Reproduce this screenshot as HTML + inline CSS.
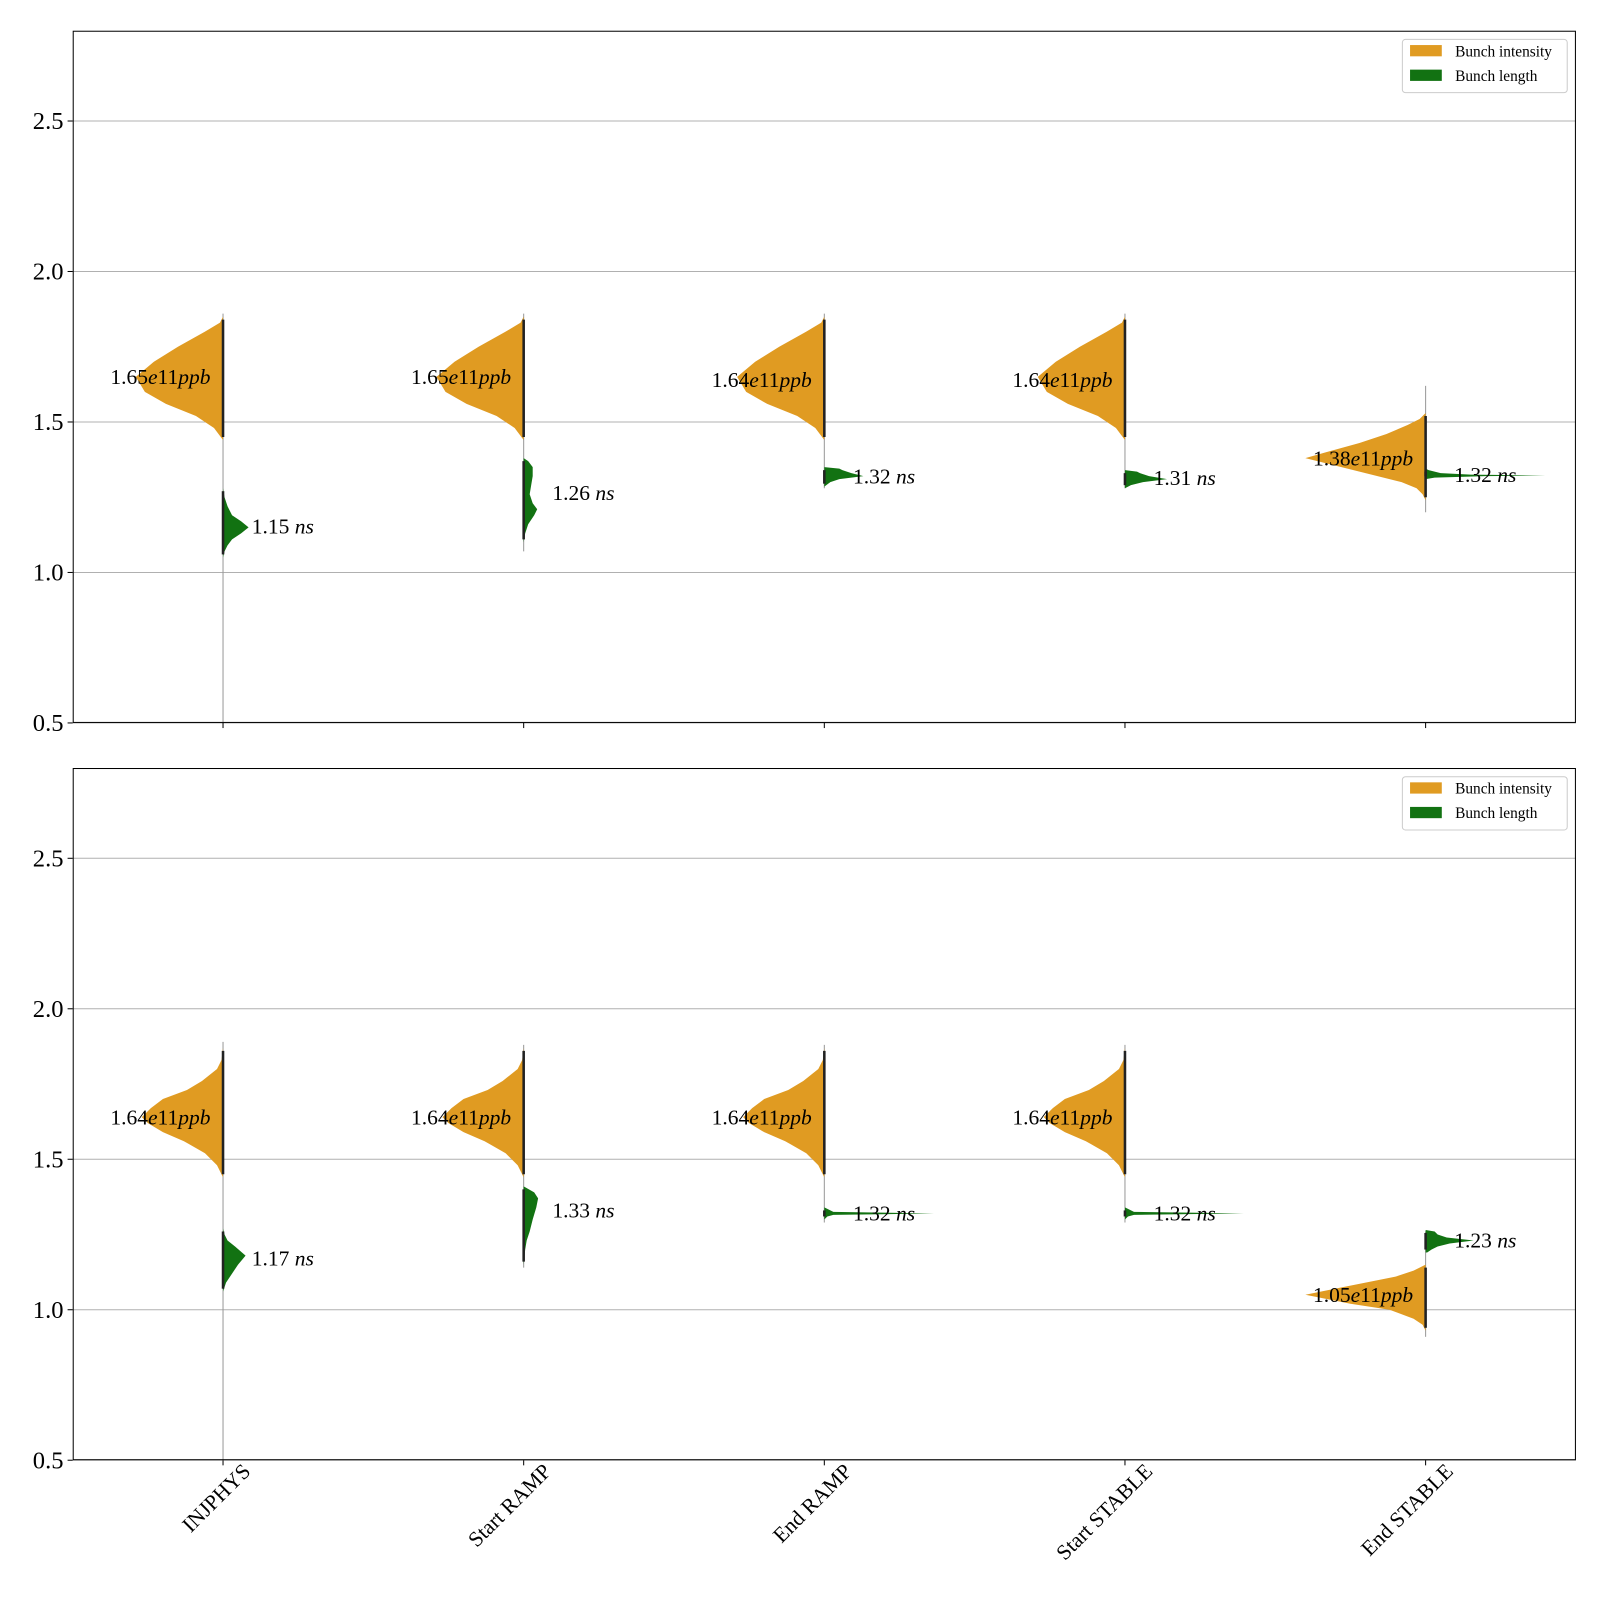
<!DOCTYPE html>
<html><head><meta charset="utf-8"><style>
body{margin:0;background:#fff}
svg text{font-family:"Liberation Serif",serif}
</style></head><body>
<svg id="c" width="1600" height="1600" viewBox="0 0 1562.5 1562.5" xmlns="http://www.w3.org/2000/svg"></svg>
<script>
const categories=["INJPHYS","Start RAMP","End RAMP","Start STABLE","End STABLE"];
const yTicks=[0.5,1.0,1.5,2.0,2.5];
const yTickLabels=["0.5","1.0","1.5","2.0","2.5"];
// top panel
const topIntensityMedian=[1.65,1.65,1.64,1.64,1.38];
const topIntensityLabels=["1.65","1.65","1.64","1.64","1.38"];
const topLengthMedian=[1.153,1.265,1.32,1.315,1.325];
const topLengthLabels=["1.15","1.26","1.32","1.31","1.32"];
const topRange=[[0.5,1.86],[1.07,1.86],[1.28,1.86],[1.28,1.86],[1.2,1.62]];
const oVals=[1.44,1.48,1.52,1.56,1.60,1.65,1.70,1.75,1.80,1.83,1.85];
const oW=[0,0.03,0.09,0.19,0.26,0.29,0.23,0.15,0.06,0.01,0];
const o5Vals=[1.24,1.26,1.28,1.30,1.33,1.36,1.38,1.40,1.43,1.46,1.49,1.51,1.53];
const o5W=[0,0.01,0.03,0.08,0.2,0.32,0.40,0.33,0.22,0.13,0.06,0.02,0];
const g1Vals=[1.05,1.07,1.09,1.11,1.13,1.15,1.17,1.19,1.22,1.25,1.28];
const g1W=[0,0.005,0.015,0.03,0.06,0.085,0.06,0.03,0.015,0.005,0];
const g2Vals=[1.10,1.13,1.16,1.19,1.21,1.23,1.26,1.29,1.32,1.35,1.37,1.38];
const g2W=[0,0.005,0.015,0.035,0.045,0.03,0.02,0.025,0.03,0.03,0.015,0];
const g3Vals=[1.285,1.30,1.31,1.32,1.33,1.34,1.345,1.35];
const g3W=[0.0,0.02,0.05,0.13,0.09,0.06,0.05,0];
const g4Vals=[1.28,1.29,1.30,1.31,1.32,1.33,1.335,1.34];
const g4W=[0,0.02,0.06,0.14,0.08,0.05,0.04,0];
const g5Vals=[1.31,1.315,1.32,1.322,1.325,1.33,1.34,1.345];
const g5W=[0,0.03,0.2,0.40,0.15,0.05,0.01,0];
// bottom panel
const botIntensityMedian=[1.64,1.64,1.64,1.64,1.05];
const botIntensityLabels=["1.64","1.64","1.64","1.64","1.05"];
const botLengthMedian=[1.17,1.33,1.32,1.32,1.23];
const botLengthLabels=["1.17","1.33","1.32","1.32","1.23"];
const botRange=[[0.5,1.89],[1.14,1.88],[1.29,1.88],[1.29,1.88],[0.91,1.26]];
const bVals=[1.44,1.48,1.52,1.56,1.59,1.62,1.64,1.67,1.70,1.73,1.76,1.80,1.83,1.87];
const bW=[0,0.02,0.06,0.13,0.2,0.25,0.27,0.24,0.2,0.12,0.07,0.02,0.005,0];
const b5Vals=[0.93,0.95,0.97,1.00,1.02,1.05,1.07,1.09,1.11,1.13,1.15];
const b5W=[0,0.01,0.04,0.12,0.25,0.40,0.3,0.2,0.1,0.04,0];
const h1Vals=[1.06,1.09,1.12,1.15,1.18,1.21,1.23,1.25,1.27];
const h1W=[0,0.01,0.03,0.05,0.075,0.04,0.015,0.005,0];
const h2Vals=[1.15,1.20,1.23,1.26,1.30,1.34,1.37,1.39,1.41];
const h2W=[0,0.005,0.01,0.02,0.03,0.042,0.048,0.035,0];
const h3Vals=[1.30,1.31,1.315,1.32,1.325,1.33,1.34];
const h3W=[0,0.01,0.03,0.365,0.03,0.02,0];
const h4Vals=[1.30,1.31,1.315,1.32,1.325,1.33,1.34];
const h4W=[0,0.01,0.03,0.395,0.03,0.02,0];
const h5Vals=[1.19,1.20,1.21,1.22,1.23,1.24,1.25,1.26,1.265];
const h5W=[0.005,0.02,0.04,0.08,0.16,0.07,0.04,0.03,0];

const NS="http://www.w3.org/2000/svg";
const svg=document.getElementById('c');
const X0=71,X1=1539,YMIN=0.5,YMAX=2.8;
const panels=[{top:30,bot:706},{top:750,bot:1426}];
const step=(X1-X0)/5;
function xs(i){return X0+(i+0.5)*step;}
function ys(p,v){return p.bot-(v-YMIN)/(YMAX-YMIN)*(p.bot-p.top);}
function mk(tag,attrs,parent){const e=document.createElementNS(NS,tag);for(const k in attrs)e.setAttribute(k,attrs[k]);(parent||svg).appendChild(e);return e;}
const ORANGE="#e09b22",GREEN="#127212";

function violin(p,i,vals,w,side,color,name){
  let d="";
  const cx=xs(i);
  vals.forEach((v,k)=>{const x=cx+side*w[k]*step;d+=(k?"L":"M")+x.toFixed(2)+","+ys(p,v).toFixed(2);});
  d+="L"+cx+","+ys(p,vals[vals.length-1])+"L"+cx+","+ys(p,vals[0])+"Z";
  const e=mk('path',{d:d,fill:color});
  
  
  return e;
}

function drawPanel(pi,p,cfg){
  const g=mk('g',{});
  
  
  yTicks.forEach((t,k)=>{
    const y=ys(p,t);
    const gl=mk('line',{x1:X0,x2:X1,y1:y,y2:y,stroke:"#b0b0b0","stroke-width":1},g);
    
    
    mk('line',{x1:X0-5,x2:X0,y1:y,y2:y,stroke:"#000"},g);
    const tx=mk('text',{x:X0-9,y:y+8,"text-anchor":"end","font-size":24},g);
    tx.textContent=yTickLabels[k];
    
    
  });
  categories.forEach((c,i)=>{
    const cx=xs(i);
    mk('line',{x1:cx,x2:cx,y1:p.bot,y2:p.bot+5,stroke:"#000"},g);
    const sl=mk('line',{x1:cx,x2:cx,y1:ys(p,cfg.range[i][0]),y2:ys(p,cfg.range[i][1]),stroke:"#999","stroke-width":1},g);
    
    
    const ov=cfg.o[i],gv=cfg.g[i];
    g.appendChild(violin(p,i,ov[0],ov[1],-1,ORANGE,'intensity-violin-'+(i+1)));
    g.appendChild(violin(p,i,gv[0],gv[1],1,GREEN,'length-violin-'+(i+1)));
    [[ov[0][0],ov[0][ov[0].length-1]],[gv[0][0],gv[0][gv[0].length-1]]].forEach(r=>{
      const bl=mk('line',{x1:cx,x2:cx,y1:ys(p,r[0]+0.01),y2:ys(p,r[1]-0.01),stroke:"#222","stroke-width":2.5},g);
      
      
    });
    const t1=mk('text',{x:cx-110,y:ys(p,cfg.im[i])+7,"font-size":21},g);
    t1.innerHTML=cfg.il[i]+'<tspan font-style="italic">e</tspan>11<tspan font-style="italic">ppb</tspan>';
    
    
    const t2=mk('text',{x:cx+28,y:ys(p,cfg.lm[i])+7,"font-size":21},g);
    t2.innerHTML=cfg.ll[i]+' <tspan font-style="italic">ns</tspan>';
    
    
  });
  const fr=mk('rect',{x:X0+0.5,y:p.top+0.5,width:X1-X0-1,height:p.bot-p.top-1,fill:"none",stroke:"#000","stroke-width":1},g);
  
  
  const lg=mk('g',{},g);
  
  
  mk('rect',{x:1369.5,y:p.top+8.5,width:161,height:52,rx:3,fill:"#fff",stroke:"#ccc"},lg);
  [["Bunch intensity",ORANGE],["Bunch length",GREEN]].forEach((e,k)=>{
    const yy=p.top+14+k*24;
    mk('rect',{x:1377,y:yy,width:31,height:11,fill:e[1]},lg);
    const t=mk('text',{x:1421,y:yy+11,"font-size":15},lg);
    t.textContent=e[0];
    
    
  });
}
drawPanel(0,panels[0],{range:topRange,im:topIntensityMedian,il:topIntensityLabels,lm:topLengthMedian,ll:topLengthLabels,
  o:[[oVals,oW],[oVals,oW],[oVals,oW],[oVals,oW],[o5Vals,o5W]],
  g:[[g1Vals,g1W],[g2Vals,g2W],[g3Vals,g3W],[g4Vals,g4W],[g5Vals,g5W]]});
drawPanel(1,panels[1],{range:botRange,im:botIntensityMedian,il:botIntensityLabels,lm:botLengthMedian,ll:botLengthLabels,
  o:[[bVals,bW],[bVals,bW],[bVals,bW],[bVals,bW],[b5Vals,b5W]],
  g:[[h1Vals,h1W],[h2Vals,h2W],[h3Vals,h3W],[h4Vals,h4W],[h5Vals,h5W]]});
categories.forEach((c,i)=>{
  const cx=xs(i)+28,y=1438;
  const t=mk('text',{x:cx,y:y,"text-anchor":"end","font-size":21,transform:`rotate(-45 ${cx} ${y})`});
  t.textContent=c;
  
  
});
</script>
</body></html>
